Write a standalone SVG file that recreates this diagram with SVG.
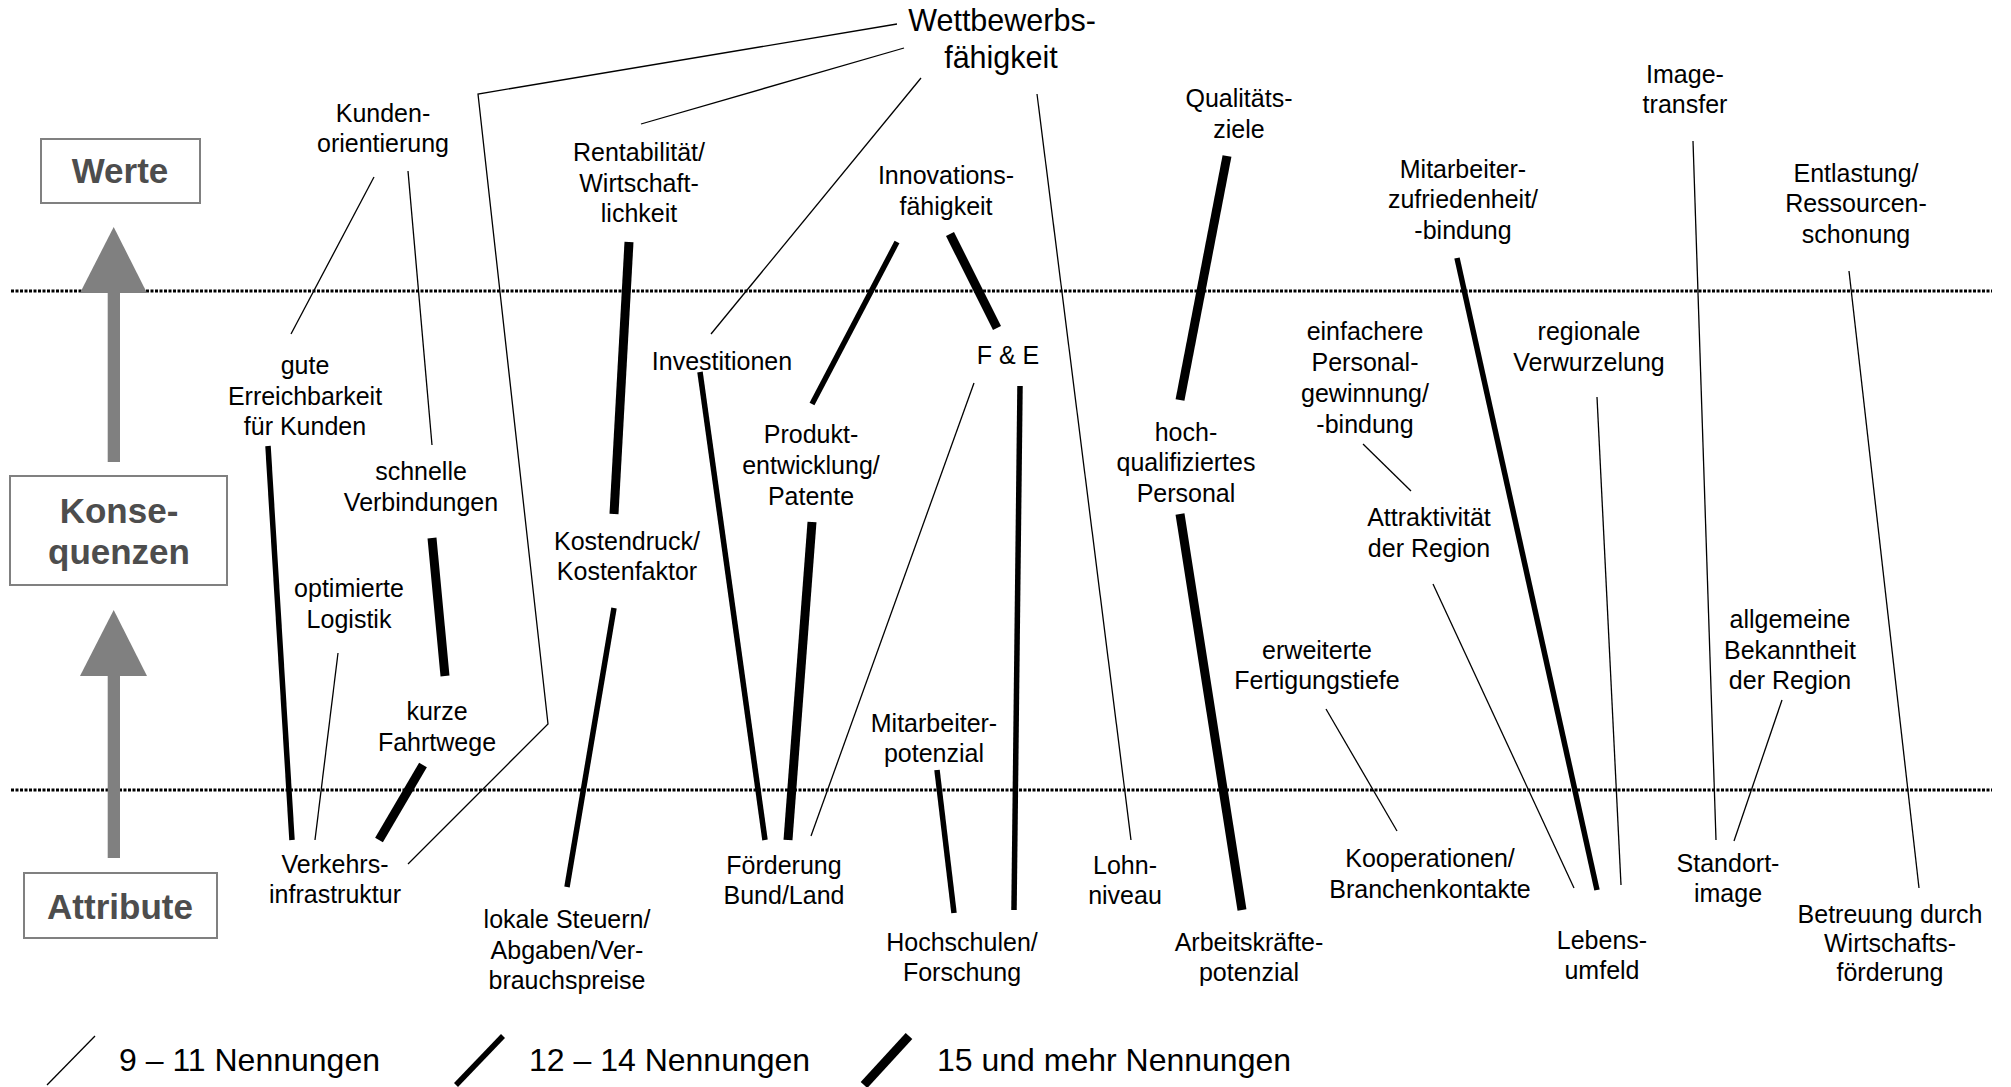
<svg xmlns="http://www.w3.org/2000/svg" width="2011" height="1087" viewBox="0 0 2011 1087">
<style>
text{font-family:"Liberation Sans",Arial,sans-serif;fill:#000}
.l{font-size:25px;text-anchor:middle}
.big{font-size:30.5px;text-anchor:middle}
.leg{font-size:32px}
.hd{font-size:35px;font-weight:bold;text-anchor:middle;fill:#4d4d4d}
.box{fill:#fff;stroke:#808080;stroke-width:2}
.dot{stroke:#000;stroke-width:3;stroke-dasharray:3 1.5;fill:none}
.t{stroke:#000;stroke-width:1.3;fill:none}
.m{stroke:#000;stroke-width:5.5;fill:none}
.k{stroke:#000;stroke-width:9;fill:none}
</style>
<rect width="2011" height="1087" fill="#fff"/>
<g id="levels">
<line class="dot" x1="11" y1="291" x2="1992" y2="291"/>
<line class="dot" x1="11" y1="790" x2="1992" y2="790"/>
<polygon points="113.7,227 80,293 147,293" fill="#808080"/>
<rect x="107.7" y="292" width="12.3" height="170" fill="#808080"/>
<polygon points="113.7,610 80,676 147,676" fill="#808080"/>
<rect x="107.7" y="675" width="12.3" height="183" fill="#808080"/>
</g>
<g id="werte"><rect class="box" x="41" y="139" width="159" height="64"/><text class="hd" x="120" y="183">Werte</text></g>
<g id="konsequenzen"><rect class="box" x="10" y="476" width="217" height="109"/><text class="hd" x="119" y="523">Konse-</text><text class="hd" x="119" y="564">quenzen</text></g>
<g id="attribute"><rect class="box" x="24" y="873" width="193" height="65"/><text class="hd" x="120" y="919">Attribute</text></g>

<g id="connectors">
<polyline class="t" points="897,24 478,94 548,724 408,864"/>
<line class="t" x1="904" y1="48" x2="641" y2="124"/>
<line class="t" x1="921" y1="78" x2="711" y2="334"/>
<line class="t" x1="1037" y1="94" x2="1131" y2="840"/>
<line class="t" x1="374" y1="177" x2="291" y2="334"/>
<line class="t" x1="408" y1="171" x2="432" y2="445"/>
<line class="t" x1="338" y1="653" x2="315" y2="840"/>
<line class="t" x1="974" y1="383" x2="811" y2="836"/>
<line class="t" x1="1363" y1="444" x2="1411" y2="491"/>
<line class="t" x1="1433" y1="584" x2="1574" y2="888"/>
<line class="t" x1="1597" y1="397" x2="1621" y2="885"/>
<line class="t" x1="1693" y1="141" x2="1716" y2="840"/>
<line class="t" x1="1849" y1="271" x2="1919" y2="888"/>
<line class="t" x1="1326" y1="709" x2="1397" y2="831"/>
<line class="t" x1="1782" y1="700" x2="1734" y2="841"/>
<line class="m" x1="268" y1="446" x2="292" y2="840"/>
<line class="m" x1="700" y1="372" x2="765" y2="840"/>
<line class="m" x1="614" y1="608" x2="567" y2="887"/>
<line class="m" x1="897" y1="242" x2="812" y2="404"/>
<line class="m" x1="1020" y1="386" x2="1014" y2="910"/>
<line class="m" x1="937" y1="770" x2="954" y2="913"/>
<line class="m" x1="1457" y1="258" x2="1597" y2="890"/>
<line class="k" x1="629" y1="242" x2="614" y2="514"/>
<line class="k" x1="432" y1="538" x2="445" y2="676"/>
<line class="k" x1="423" y1="765" x2="379" y2="840"/>
<line class="k" x1="950" y1="234" x2="997" y2="328"/>
<line class="k" x1="812" y1="522" x2="788" y2="840"/>
<line class="k" x1="1227" y1="156" x2="1180" y2="400"/>
<line class="k" x1="1180" y1="514" x2="1242" y2="910"/>
</g>

<g id="n-wettbewerb"><text class="big" x="1002" y="31">Wettbewerbs-</text><text class="big" x="1001" y="68">fähigkeit</text></g>
<g id="n-kunden"><text class="l" x="383" y="122">Kunden-</text><text class="l" x="383" y="152">orientierung</text></g>
<g id="n-rentab"><text class="l" x="639" y="161">Rentabilität/</text><text class="l" x="639" y="191.5">Wirtschaft-</text><text class="l" x="639" y="222">lichkeit</text></g>
<g id="n-innov"><text class="l" x="946" y="184">Innovations-</text><text class="l" x="946" y="214.5">fähigkeit</text></g>
<g id="n-qual"><text class="l" x="1239" y="107">Qualitäts-</text><text class="l" x="1239" y="137.5">ziele</text></g>
<g id="n-mazuf"><text class="l" x="1463" y="177.5">Mitarbeiter-</text><text class="l" x="1463" y="208">zufriedenheit/</text><text class="l" x="1463" y="238.5">-bindung</text></g>
<g id="n-image"><text class="l" x="1685" y="82.5">Image-</text><text class="l" x="1685" y="113">transfer</text></g>
<g id="n-entl"><text class="l" x="1856" y="181.5">Entlastung/</text><text class="l" x="1856" y="212">Ressourcen-</text><text class="l" x="1856" y="242.5">schonung</text></g>
<g id="n-gute"><text class="l" x="305" y="374">gute</text><text class="l" x="305" y="404.5">Erreichbarkeit</text><text class="l" x="305" y="435">für Kunden</text></g>
<g id="n-schnell"><text class="l" x="421" y="480">schnelle</text><text class="l" x="421" y="510.5">Verbindungen</text></g>
<g id="n-invest"><text class="l" x="722" y="370">Investitionen</text></g>
<g id="n-fe"><text class="l" x="1008" y="363.5">F &amp; E</text></g>
<g id="n-produkt"><text class="l" x="811" y="443">Produkt-</text><text class="l" x="811" y="474">entwicklung/</text><text class="l" x="811" y="505">Patente</text></g>
<g id="n-hoch"><text class="l" x="1186" y="440.5">hoch-</text><text class="l" x="1186" y="471">qualifiziertes</text><text class="l" x="1186" y="501.5">Personal</text></g>
<g id="n-einf"><text class="l" x="1365" y="339.5">einfachere</text><text class="l" x="1365" y="370.5">Personal-</text><text class="l" x="1365" y="401.5">gewinnung/</text><text class="l" x="1365" y="432.5">-bindung</text></g>
<g id="n-regional"><text class="l" x="1589" y="339.5">regionale</text><text class="l" x="1589" y="370.5">Verwurzelung</text></g>
<g id="n-attrakt"><text class="l" x="1429" y="526">Attraktivität</text><text class="l" x="1429" y="557">der Region</text></g>
<g id="n-kosten"><text class="l" x="627" y="549.5">Kostendruck/</text><text class="l" x="627" y="580">Kostenfaktor</text></g>
<g id="n-optim"><text class="l" x="349" y="597">optimierte</text><text class="l" x="349" y="627.5">Logistik</text></g>
<g id="n-kurze"><text class="l" x="437" y="720">kurze</text><text class="l" x="437" y="750.5">Fahrtwege</text></g>
<g id="n-erw"><text class="l" x="1317" y="658.5">erweiterte</text><text class="l" x="1317" y="689">Fertigungstiefe</text></g>
<g id="n-allg"><text class="l" x="1790" y="628">allgemeine</text><text class="l" x="1790" y="658.5">Bekanntheit</text><text class="l" x="1790" y="689">der Region</text></g>
<g id="n-mapot"><text class="l" x="934" y="731.5">Mitarbeiter-</text><text class="l" x="934" y="762">potenzial</text></g>
<g id="n-verkehr"><text class="l" x="335" y="873">Verkehrs-</text><text class="l" x="335" y="903">infrastruktur</text></g>
<g id="n-foerd"><text class="l" x="784" y="874">Förderung</text><text class="l" x="784" y="904">Bund/Land</text></g>
<g id="n-lohn"><text class="l" x="1125" y="874">Lohn-</text><text class="l" x="1125" y="904">niveau</text></g>
<g id="n-koop"><text class="l" x="1430" y="867">Kooperationen/</text><text class="l" x="1430" y="897.5">Branchenkontakte</text></g>
<g id="n-standort"><text class="l" x="1728" y="871.5">Standort-</text><text class="l" x="1728" y="901.5">image</text></g>
<g id="n-lokal"><text class="l" x="567" y="928">lokale Steuern/</text><text class="l" x="567" y="958.5">Abgaben/Ver-</text><text class="l" x="567" y="989">brauchspreise</text></g>
<g id="n-hochsch"><text class="l" x="962" y="950.5">Hochschulen/</text><text class="l" x="962" y="981">Forschung</text></g>
<g id="n-arbeit"><text class="l" x="1249" y="950.5">Arbeitskräfte-</text><text class="l" x="1249" y="981">potenzial</text></g>
<g id="n-lebens"><text class="l" x="1602" y="948.5">Lebens-</text><text class="l" x="1602" y="978.5">umfeld</text></g>
<g id="n-betreu"><text class="l" x="1890" y="923">Betreuung durch</text><text class="l" x="1890" y="952">Wirtschafts-</text><text class="l" x="1890" y="981">förderung</text></g>

<g id="legend">
<line class="t" x1="95" y1="1036" x2="47" y2="1085"/>
<text class="leg" x="119" y="1071">9 – 11 Nennungen</text>
<line class="m" x1="503" y1="1036" x2="456" y2="1085"/>
<text class="leg" x="529" y="1071">12 – 14 Nennungen</text>
<line class="k" x1="909" y1="1036" x2="864" y2="1085"/>
<text class="leg" x="937" y="1071">15 und mehr Nennungen</text>
</g>
</svg>
